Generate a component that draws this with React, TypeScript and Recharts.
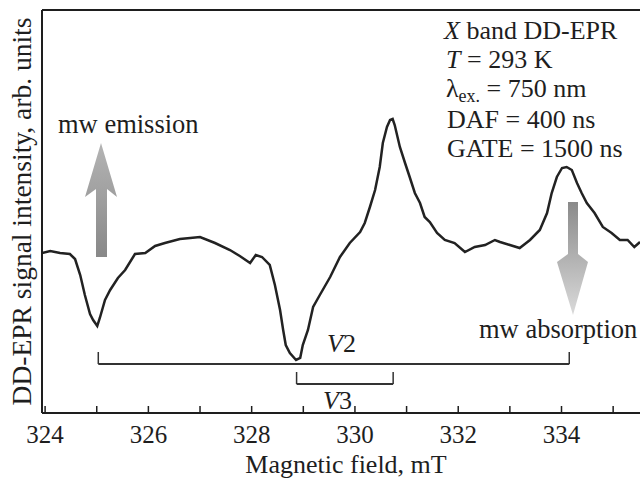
import React from 'react';
import { LineChart, Line, XAxis, YAxis, ReferenceLine, Customized } from 'recharts';

const fieldValues = [
  323.94, 324.10, 324.29, 324.48, 324.58, 324.68, 324.77, 324.87, 324.93, 325.01,
  325.06, 325.16, 325.26, 325.41, 325.55, 325.74, 325.94, 326.13, 326.32, 326.61,
  326.81, 327.00, 327.29, 327.58, 327.77, 327.97, 328.08, 328.20, 328.35, 328.45,
  328.55, 328.61, 328.66, 328.74, 328.86, 328.94, 328.99, 329.09, 329.19, 329.32,
  329.52, 329.71, 329.90, 330.10, 330.19, 330.29, 330.39, 330.48, 330.54, 330.62,
  330.68, 330.73, 330.77, 330.87, 330.97, 331.06, 331.16, 331.26, 331.35, 331.45,
  331.59, 331.74, 331.93, 332.13, 332.32, 332.52, 332.71, 332.81, 333.00, 333.19,
  333.39, 333.58, 333.72, 333.81, 333.91, 334.01, 334.10, 334.20, 334.30, 334.39,
  334.49, 334.64, 334.80, 334.97, 335.13, 335.28, 335.41, 335.52,
];

const signalValues = [
  160, 162, 160, 159, 154, 138, 118, 99, 93, 87,
  95, 113, 123, 135, 143, 159, 160, 167, 170, 174,
  175, 176, 170, 163, 157, 150, 158, 156, 148, 128,
  103, 83, 68, 60, 53, 55, 68, 83, 106, 118,
  136, 156, 170, 181, 190, 206, 223, 246, 270, 286,
  293, 294, 288, 266, 250, 236, 220, 210, 196, 191,
  180, 173, 170, 161, 166, 168, 173, 171, 168, 165,
  173, 183, 200, 220, 236, 245, 246, 243, 230, 220,
  210, 200, 186, 180, 173, 173, 166, 171,
];

const xTicks = [324, 325, 326, 327, 328, 329, 330, 331, 332, 333, 334, 335];
const xTickLabels = ['324', '', '326', '', '328', '', '330', '', '332', '', '334', ''];

const v2Bracket = { from: 325.03, to: 334.15, level: 49, top: 61 };
const v3Bracket = { from: 328.87, to: 330.74, level: 29, top: 41 };

const xDomain: [number, number] = [323.94, 335.52];
const yDomain: [number, number] = [0, 403];

const data = fieldValues.map((f, i) => ({ field: f, signal: signalValues[i] }));

const FONT = "'Liberation Serif', 'Times New Roman', serif";
const INK = '#1e1e1e';

const Tick = (props: any) => {
  const { x, y, payload } = props;
  const label = xTickLabels[xTicks.indexOf(payload.value)] ?? '';
  return (
    <g>
      <line x1={x} y1={y} x2={x} y2={y - 7} stroke={INK} strokeWidth={1.5} />
      {label ? (
        <text x={x} y={y + 30} textAnchor="middle" fontFamily={FONT} fontSize={25} fill={INK}>
          {label}
        </text>
      ) : null}
    </g>
  );
};

const Annotations = () => (
  <g fontFamily={FONT} fill={INK}>
    <defs>
      <linearGradient id="gUp" x1="0" y1="0" x2="0" y2="1">
        <stop offset="0%" stopColor="#b4b4b4" />
        <stop offset="100%" stopColor="#888888" />
      </linearGradient>
      <linearGradient id="gDown" x1="0" y1="0" x2="0" y2="1">
        <stop offset="0%" stopColor="#8a8a8a" />
        <stop offset="100%" stopColor="#dadada" />
      </linearGradient>
    </defs>
    <polygon
      points="101,143 117,197 107,189 107,257 96,257 96,189 85,197"
      fill="url(#gUp)"
    />
    <polygon
      points="568,202 578,202 578,254 588,262 573,315 557,262 568,254"
      fill="url(#gDown)"
    />
    <text x={58} y={133} fontSize={26.5}>mw emission</text>
    <text x={479} y={338} fontSize={26.5}>mw absorption</text>
    <text x={444} y={39} fontSize={26}>
      <tspan fontStyle="italic">X</tspan> band DD-EPR
    </text>
    <text x={446} y={68} fontSize={26}>
      <tspan fontStyle="italic">T</tspan> = 293 K
    </text>
    <text x={446} y={97} fontSize={26}>
      λ<tspan fontSize={18} dy={5}>ex.</tspan>
      <tspan dy={-5}> = 750 nm</tspan>
    </text>
    <text x={447} y={128} fontSize={26}>DAF = 400 ns</text>
    <text x={447} y={157} fontSize={26}>GATE = 1500 ns</text>
    <text x={327} y={352} fontSize={26}>
      <tspan fontStyle="italic">V</tspan>2
    </text>
    <text x={323} y={409} fontSize={26}>
      <tspan fontStyle="italic">V</tspan>3
    </text>
  </g>
);

export default function App() {
  return (
    <div style={{ position: 'absolute', left: 0, top: 0, width: 640, height: 480, background: '#fff' }}>
      <LineChart
        width={640}
        height={480}
        data={data}
        margin={{ top: 10, right: 0, bottom: 0, left: 0 }}
      >
        <XAxis
          dataKey="field"
          type="number"
          domain={xDomain}
          allowDataOverflow
          ticks={xTicks}
          interval={0}
          tickLine={false}
          tickSize={0}
          tickMargin={0}
          tick={<Tick />}
          height={67}
          axisLine={{ stroke: INK, strokeWidth: 2 }}
          label={{
            value: 'Magnetic field, mT',
            position: 'insideBottom',
            offset: 7,
            dx: 5,
            style: { fontFamily: FONT, fontSize: 26, fill: INK },
          }}
        />
        <YAxis
          type="number"
          domain={yDomain}
          allowDataOverflow
          width={42}
          tick={false}
          tickLine={false}
          axisLine={{ stroke: INK, strokeWidth: 2 }}
          label={{
            value: 'DD-EPR signal intensity, arb. units',
            angle: -90,
            position: 'insideLeft',
            offset: 21,
            style: { fontFamily: FONT, fontSize: 27.5, fill: INK, textAnchor: 'middle' },
          }}
        />
        <ReferenceLine y={403} stroke={INK} strokeWidth={2} />
        <ReferenceLine
          segment={[{ x: v2Bracket.from, y: v2Bracket.top }, { x: v2Bracket.from, y: v2Bracket.level }]}
          stroke="#333" strokeWidth={1.5}
        />
        <ReferenceLine
          segment={[{ x: v2Bracket.from, y: v2Bracket.level }, { x: v2Bracket.to, y: v2Bracket.level }]}
          stroke="#333" strokeWidth={2}
        />
        <ReferenceLine
          segment={[{ x: v2Bracket.to, y: v2Bracket.level }, { x: v2Bracket.to, y: v2Bracket.top }]}
          stroke="#333" strokeWidth={1.5}
        />
        <ReferenceLine
          segment={[{ x: v3Bracket.from, y: v3Bracket.top }, { x: v3Bracket.from, y: v3Bracket.level }]}
          stroke="#333" strokeWidth={1.5}
        />
        <ReferenceLine
          segment={[{ x: v3Bracket.from, y: v3Bracket.level }, { x: v3Bracket.to, y: v3Bracket.level }]}
          stroke="#333" strokeWidth={2}
        />
        <ReferenceLine
          segment={[{ x: v3Bracket.to, y: v3Bracket.level }, { x: v3Bracket.to, y: v3Bracket.top }]}
          stroke="#333" strokeWidth={1.5}
        />
        <Line
          dataKey="signal"
          type="linear"
          stroke="#222"
          strokeWidth={2.5}
          dot={false}
          isAnimationActive={false}
        />
        <Customized component={<Annotations />} />
      </LineChart>
    </div>
  );
}
